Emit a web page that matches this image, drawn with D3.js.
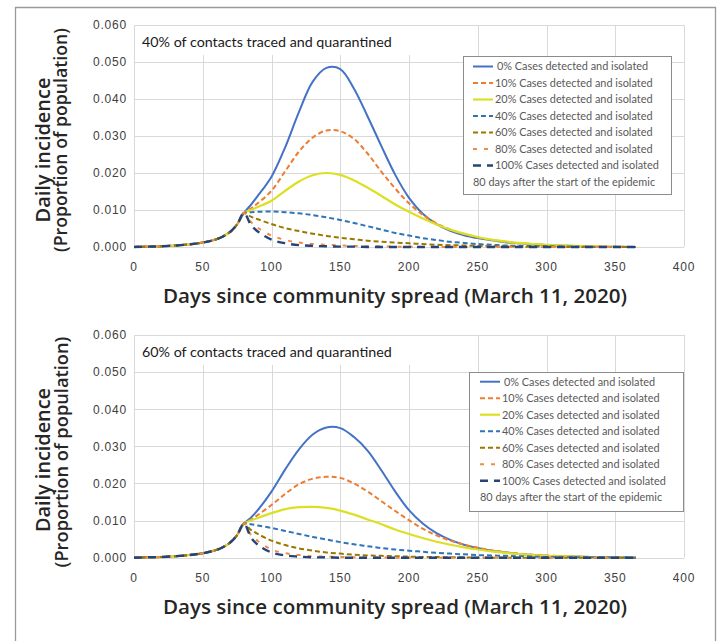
<!DOCTYPE html>
<html>
<head>
<meta charset="utf-8">
<script src="https://cdn.jsdelivr.net/npm/d3@7"></script>
<style>
  body { margin: 0; background: #fff; }
  svg { display: block; }
  .tick-lab { font-family: "Liberation Sans", Arial, sans-serif; font-size: 12px; fill: #404040; letter-spacing: 0.8px; }
  .ax-title { font-family: "Open Sans", Lato, sans-serif; font-weight: 600; fill: #262626; }
  .note { font-family: Lato, "Open Sans", sans-serif; font-size: 14px; fill: #1a1a1a; }
  .leg { font-family: Lato, "Open Sans", sans-serif; font-size: 10.9px; fill: #595959; }
</style>
</head>
<body>
<svg id="chart" width="722" height="641"></svg>
<script>
// dni pred 80. dnem - vse krivulje so enake
const earlyDays = [0, 10, 20, 30, 40, 50, 60, 65, 70, 75, 80];
const earlyVals = [0, 0.0001, 0.0002, 0.0004, 0.0007, 0.0012, 0.0021, 0.0029, 0.0041, 0.0061, 0.0092];

// dnevi po 80. dnevu
const days = [85, 90, 100, 110, 120, 130, 140, 150, 160, 170, 180, 190, 200, 210, 220, 230, 240, 250, 260, 270, 280, 300, 320, 340, 365];

const labels = ["0% Cases detected and isolated", "10% Cases detected and isolated", "20% Cases detected and isolated",
  "40% Cases detected and isolated", "60% Cases detected and isolated", "80% Cases detected and isolated",
  "100% Cases detected and isolated"];
const extraLabel = "80 days after the start of the epidemic";

const xTicks = [0, 50, 100, 150, 200, 250, 300, 350, 400];
const yTicks = [0, 0.01, 0.02, 0.03, 0.04, 0.05, 0.06];

const xTitle = "Days since community spread (March 11, 2020)";
const yTitle1 = "Daily incidence";
const yTitle2 = "(Proportion of population)";

// zgornji graf: 40% kontaktov
const topNote = "40% of contacts traced and quarantined";
const top0   = [0.0114, 0.0138, 0.0190, 0.0270, 0.0365, 0.0447, 0.0484, 0.0481, 0.0428, 0.0352, 0.0272, 0.0195, 0.0133, 0.0090, 0.0062, 0.0044, 0.0032, 0.0024, 0.0018, 0.0013, 0.0010, 0.0005, 0.0003, 0.0001, 0];
const top10  = [0.0104, 0.0118, 0.0152, 0.0205, 0.0258, 0.0296, 0.0315, 0.0313, 0.0292, 0.0252, 0.0203, 0.0158, 0.0118, 0.0087, 0.0064, 0.0047, 0.0035, 0.0026, 0.0019, 0.0014, 0.0010, 0.0005, 0.0003, 0.0001, 0];
const top20  = [0.0100, 0.0108, 0.0125, 0.0152, 0.0177, 0.0194, 0.0200, 0.0195, 0.0180, 0.0160, 0.0138, 0.0115, 0.0095, 0.0077, 0.0061, 0.0047, 0.0036, 0.0027, 0.0020, 0.0015, 0.0011, 0.0006, 0.0003, 0.0001, 0];
const top40  = [0.0094, 0.0095, 0.0096, 0.0094, 0.0091, 0.0086, 0.0080, 0.0073, 0.0065, 0.0056, 0.0047, 0.0038, 0.0031, 0.0024, 0.0019, 0.0014, 0.0011, 0.0008, 0.0006, 0.0004, 0.0003, 0.0002, 0.0001, 0, 0];
const top60  = [0.0082, 0.0075, 0.0062, 0.0051, 0.0043, 0.0036, 0.0030, 0.0025, 0.0021, 0.0017, 0.0014, 0.0012, 0.0010, 0.0008, 0.0006, 0.0005, 0.0004, 0.0003, 0.0002, 0.0002, 0.0001, 0.0001, 0, 0, 0];
const top80  = [0.0068, 0.0052, 0.0031, 0.0019, 0.0012, 0.0008, 0.0006, 0.0004, 0.0003, 0.0002, 0.0002, 0.0001, 0.0001, 0, 0, 0, 0, 0, 0, 0, 0, 0, 0, 0, 0];
const top100 = [0.0060, 0.0042, 0.0020, 0.0010, 0.0005, 0.0003, 0.0002, 0.0001, 0.0001, 0, 0, 0, 0, 0, 0, 0, 0, 0, 0, 0, 0, 0, 0, 0, 0];

// spodnji graf: 60% kontaktov
const botNote = "60% of contacts traced and quarantined";
const bot0   = [0.0108, 0.0128, 0.0178, 0.0238, 0.0292, 0.0332, 0.0351, 0.0349, 0.0325, 0.0288, 0.0235, 0.0178, 0.0128, 0.0092, 0.0066, 0.0048, 0.0035, 0.0026, 0.0019, 0.0014, 0.0010, 0.0005, 0.0003, 0.0001, 0];
const bot10  = [0.0102, 0.0115, 0.0142, 0.0172, 0.0198, 0.0213, 0.0218, 0.0215, 0.0200, 0.0178, 0.0152, 0.0126, 0.0101, 0.0078, 0.0060, 0.0046, 0.0035, 0.0027, 0.0020, 0.0015, 0.0011, 0.0006, 0.0003, 0.0001, 0];
const bot20  = [0.0100, 0.0107, 0.0120, 0.0131, 0.0136, 0.0137, 0.0134, 0.0127, 0.0116, 0.0103, 0.0090, 0.0076, 0.0064, 0.0053, 0.0043, 0.0035, 0.0028, 0.0022, 0.0017, 0.0013, 0.0010, 0.0005, 0.0003, 0.0001, 0];
const bot40  = [0.0090, 0.0087, 0.0080, 0.0072, 0.0064, 0.0056, 0.0049, 0.0042, 0.0036, 0.0031, 0.0026, 0.0022, 0.0019, 0.0016, 0.0013, 0.0011, 0.0009, 0.0007, 0.0006, 0.0005, 0.0004, 0.0002, 0.0001, 0.0001, 0];
const bot60  = [0.0075, 0.0064, 0.0046, 0.0034, 0.0025, 0.0019, 0.0014, 0.0011, 0.0008, 0.0006, 0.0005, 0.0004, 0.0003, 0.0002, 0.0002, 0.0001, 0.0001, 0, 0, 0, 0, 0, 0, 0, 0];
const bot80  = [0.0062, 0.0045, 0.0022, 0.0012, 0.0007, 0.0004, 0.0003, 0.0002, 0.0001, 0.0001, 0.0001, 0, 0, 0, 0, 0, 0, 0, 0, 0, 0, 0, 0, 0, 0];
const bot100 = [0.0055, 0.0035, 0.0014, 0.0006, 0.0003, 0.0001, 0.0001, 0, 0, 0, 0, 0, 0, 0, 0, 0, 0, 0, 0, 0, 0, 0, 0, 0, 0];

// stili crt (barva, crtkanje, debelina)
const styles = [
  { color: "#4472c4", dash: null, w: 2 },
  { color: "#ed7d31", dash: "5,3", w: 2 },
  { color: "#dce024", dash: null, w: 2.2 },
  { color: "#2e75b6", dash: "5,3", w: 2 },
  { color: "#9c7700", dash: "5,3", w: 2 },
  { color: "#f08a45", dash: "4,7", w: 2 },
  { color: "#264478", dash: "8,6", w: 2.4 }
];

const svg = d3.select("#chart");

// okvir
svg.append("path")
  .attr("d", "M15.5,641 V7.5 H715.5 V641")
  .attr("fill", "none")
  .attr("stroke", "#9a9a9a")
  .attr("stroke-width", 1.3);

const x = d3.scaleLinear().domain([0, 400]).range([134, 684]);

// prilagodi velikost pisave, da je napis dolg kot v originalu
function fitText(sel, size, width) {
  sel.style("font-size", size + "px");
  const w = sel.node().getComputedTextLength();
  if (w > 0) sel.style("font-size", (size * width / w).toFixed(2) + "px");
}

function drawPanel(o) {
  const y = d3.scaleLinear().domain([0, 0.06]).range([o.bottom, o.top]);
  const g = svg.append("g");

  // mreza
  g.selectAll(".hg").data(yTicks).enter().append("line")
    .attr("x1", x(0)).attr("x2", x(400))
    .attr("y1", d => Math.round(y(d)) + 0.5).attr("y2", d => Math.round(y(d)) + 0.5)
    .attr("stroke", "#d9d9d9").attr("stroke-width", 1);
  g.selectAll(".vg").data(xTicks).enter().append("line")
    .attr("x1", d => Math.round(x(d)) + 0.5).attr("x2", d => Math.round(x(d)) + 0.5)
    .attr("y1", y(0)).attr("y2", y(0.06))
    .attr("stroke", "#d9d9d9").attr("stroke-width", 1);

  // napis v levem zgornjem kotu (bel pravokotnik cez mrezo)
  g.append("rect")
    .attr("x", x(0) + 1).attr("y", y(0.06) + 1)
    .attr("width", 277).attr("height", 29)
    .attr("fill", "#fff");
  const note = g.append("text").attr("class", "note")
    .attr("x", 142).attr("y", y(0.06) + 17.5)
    .attr("dy", "0.35em")
    .text(o.note);
  fitText(note, 14, 250);

  // oznake osi
  g.selectAll(".yl").data(yTicks).enter().append("text")
    .attr("class", "tick-lab")
    .attr("x", 127).attr("y", d => y(d))
    .attr("dy", "0.36em")
    .attr("text-anchor", "end")
    .text(d3.format(".3f"));
  g.selectAll(".xl").data(xTicks).enter().append("text")
    .attr("class", "tick-lab")
    .attr("x", d => x(d)).attr("y", y(0) + 20)
    .attr("dy", "0.36em")
    .attr("text-anchor", "middle")
    .text(d => d);

  const xt = g.append("text").attr("class", "ax-title")
    .attr("x", 395).attr("y", y(0) + 49)
    .attr("dy", "0.36em")
    .attr("text-anchor", "middle")
    .text(xTitle);
  fitText(xt, 17, 464);

  const yt1 = g.append("text").attr("class", "ax-title")
    .attr("transform", `translate(43,${o.t1}) rotate(-90)`)
    .attr("dy", "0.36em")
    .attr("text-anchor", "middle")
    .text(yTitle1);
  fitText(yt1, 17, o.t1w);
  const yt2 = g.append("text").attr("class", "ax-title")
    .attr("transform", `translate(61,${o.t2}) rotate(-90)`)
    .attr("dy", "0.36em")
    .attr("text-anchor", "middle")
    .text(yTitle2);
  fitText(yt2, 17, o.t2w);

  // krivulje
  const line = d3.line()
    .x(d => x(d[0]))
    .y(d => y(Math.max(0, d[1])))
    .curve(d3.curveCatmullRom.alpha(0.5));

  o.series.forEach((vals, i) => {
    const pts = earlyDays.map((d, j) => [d, earlyVals[j]])
      .concat(days.map((d, j) => [d, vals[j]]));
    const s = styles[i];
    g.append("path")
      .datum(pts)
      .attr("d", line)
      .attr("fill", "none")
      .attr("stroke", s.color)
      .attr("stroke-width", s.w)
      .attr("stroke-dasharray", s.dash);
  });

  // legenda
  const lg = g.append("g").attr("transform", `translate(${o.lx},${o.ly})`);
  lg.append("rect")
    .attr("x", 0.5).attr("y", 0.5)
    .attr("width", o.lw).attr("height", o.lh)
    .attr("fill", "#fff")
    .attr("stroke", "#8c8c8c");
  labels.forEach((lab, i) => {
    const s = styles[i];
    const ry = o.row0 + i * 16.5;
    lg.append("line")
      .attr("x1", o.sx).attr("x2", o.sx + 20)
      .attr("y1", ry).attr("y2", ry)
      .attr("stroke", s.color)
      .attr("stroke-width", s.w)
      .attr("stroke-dasharray", s.dash);
    lg.append("text").attr("class", "leg")
      .attr("x", o.sx + 22 + (i === 0 ? 2 : 0)).attr("y", ry)
      .attr("dy", "0.35em")
      .text(lab);
  });
  lg.append("text").attr("class", "leg")
    .attr("x", o.sx).attr("y", o.row0 + 7 * 16.5)
    .attr("dy", "0.35em")
    .text(extraLabel);
}

drawPanel({
  top: 25, bottom: 247, note: topNote,
  series: [top0, top10, top20, top40, top60, top80, top100],
  t1: 150, t2: 140, t1w: 145, t2w: 224,
  lx: 463, ly: 56, lw: 208, lh: 138, sx: 10, row0: 10.5
});

drawPanel({
  top: 335, bottom: 557.7, note: botNote,
  series: [bot0, bot10, bot20, bot40, bot60, bot80, bot100],
  t1: 460, t2: 452, t1w: 144, t2w: 231,
  lx: 469, ly: 372, lw: 214, lh: 139, sx: 11, row0: 9.7
});
</script>
</body>
</html>
